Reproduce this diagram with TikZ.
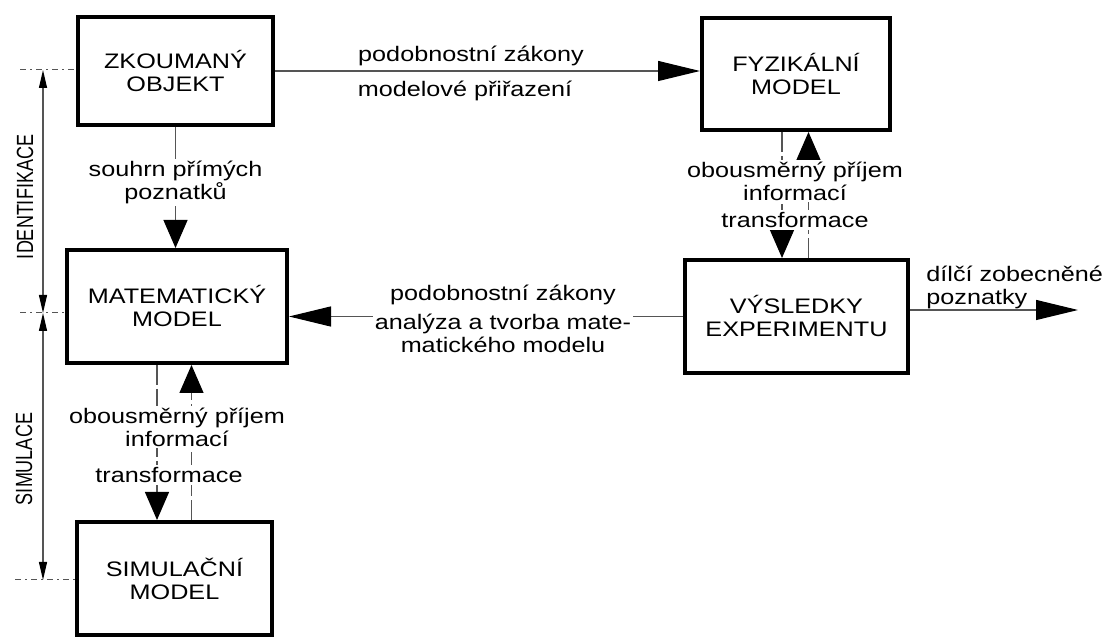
\documentclass[tikz,border=0pt]{standalone}
\usepackage{fontspec}
\setmainfont{Liberation Sans}[FakeStretch=1.2]
\newfontfamily\plainsans{Liberation Sans}
\usetikzlibrary{arrows.meta,positioning,calc}
\definecolor{linegrey}{RGB}{85,85,85}
\newcommand{\boxfont}{\fontsize{10.5}{11.5}\selectfont}
\tikzset{
  blk/.style={draw=black,line width=2pt,fill=white,align=center,inner sep=0pt,font=\boxfont},
  lbl/.style={font=\boxfont,inner sep=1pt,fill=white,align=center},
  vlbl/.style={font=\plainsans\fontsize{9}{10}\selectfont,rotate=90,yscale=1.3,inner sep=0pt},
  hflow/.style={draw=linegrey,line width=0.6pt,-{Triangle[length=21pt,width=10pt,black]}},
  vflow/.style={draw=linegrey,line width=0.6pt,-{Triangle[length=14pt,width=12pt,black]}},
  brk/.style={dash pattern=on 10pt off 2pt},
  guide/.style={draw=linegrey,line width=0.5pt,dash pattern=on 3pt off 2pt on 1pt off 2pt},
  axis/.style={draw=linegrey,line width=0.6pt,
               {Triangle[length=9pt,width=4pt,black]}-{Triangle[length=9pt,width=4pt,black]}},
}

\begin{document}
\begin{tikzpicture}[x=0.5pt,y=0.5pt]
  \useasboundingbox (0,0) rectangle (1103,637);

  \node[blk,minimum width=97.5pt,minimum height=54pt]  (zo) at (175.5,566) {ZKOUMANÝ\\OBJEKT};
  \node[blk,minimum width=94pt,minimum height=56pt]    (fz) at (796,563)   {FYZIKÁLNÍ\\MODEL};
  \node[blk,minimum width=110pt,minimum height=56.5pt] (mm) at (177,330.5) {MATEMATICKÝ\\MODEL};
  \node[blk,minimum width=111.5pt,minimum height=56.5pt] (ve) at (796.5,320.5) {VÝSLEDKY\\EXPERIMENTU};
  \node[blk,minimum width=97.5pt,minimum height=56.5pt] (sm) at (174.5,58.5) {SIMULAČNÍ\\MODEL};

  % objekt -> fyzikalni model
  \draw[hflow] (zo.east) -- (zo.east -| fz.west);
  \node[lbl] at (471,581) {podobnostní zákony};
  \node[lbl] at (465,546) {modelové přiřazení};

  \draw[vflow] (zo.south) -- node[lbl,pos=0.46]{souhrn přímých\\poznatků} (zo.south |- mm.north);

  % matematicky <-> simulacni
  \draw[vflow,brk] ([xshift=-10pt]mm.south) -- ([xshift=-10pt]mm.south |- sm.north);
  \draw[vflow,brk] ([xshift=8.5pt]sm.north) -- ([xshift=8.5pt]sm.north |- mm.south);
  \node[lbl] at (177,210) {obousměrný příjem\\informací};
  \node[lbl] at (169,162) {transformace};

  % fyzikalni <-> vysledky
  \draw[vflow,brk] ([xshift=-7pt]fz.south) -- ([xshift=-7pt]fz.south |- ve.north);
  \draw[vflow,brk] ([xshift=6pt]ve.north) -- ([xshift=6pt]ve.north |- fz.south);
  \node[lbl] at (795,456) {obousměrný příjem\\informací};
  \node[lbl] at (795,417) {transformace};

  % vysledky -> matematicky
  \draw[hflow] (ve.west) -- (ve.west -| mm.east);
  \node[lbl] at (503,342) {podobnostní zákony};
  \node[lbl] at (503,304) {analýza a tvorba mate-\\matického modelu};

  \coordinate (out) at (1078,327);
  \draw[hflow] (ve.east |- out) -- (out);
  \node[lbl,fill=none,anchor=west,align=left] at (924,350) {dílčí zobecněné\\poznatky};

  % osa vlevo
  \coordinate (a1) at (43,567);
  \coordinate (a2) at (43,324);
  \coordinate (a3) at (43,57);
  \draw[guide] ([xshift=-11.5pt]a1) -- (a1 -| zo.west);
  \draw[guide] ([xshift=-11.5pt]a2) -- (a2 -| mm.west);
  \draw[guide] ([xshift=-14pt]a3) -- (a3 -| sm.west);
  \draw[axis] (a1) -- (a2);
  \draw[axis] (a2) -- (a3);
  \node[vlbl] (idf) at (25,440) {IDENTIFIKACE};
  \node[vlbl] (sim) at (24,178) {SIMULACE};
\end{tikzpicture}
\end{document}
